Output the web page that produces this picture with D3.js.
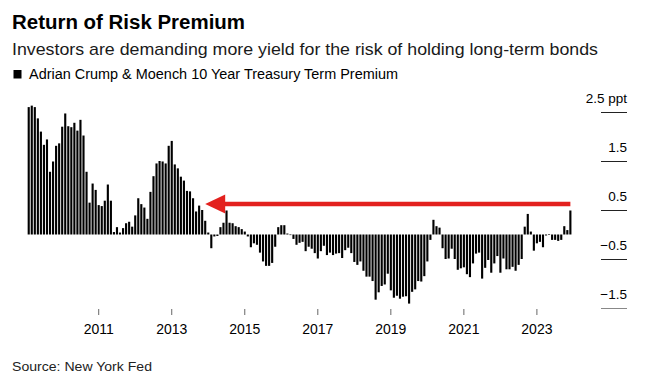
<!DOCTYPE html>
<html>
<head>
<meta charset="utf-8">
<script src="https://cdn.jsdelivr.net/npm/d3@7"></script>
<style>
  body { margin: 0; background: #fff; }
  text { font-family: "Liberation Sans", Arial, sans-serif; }
</style>
</head>
<body>
<svg id="chart" width="648" height="386"></svg>
<script>
// monthly ACM 10y term premium, ppt
const startMonth = new Date(2009, 1, 1);
const premium = [
  2.60, 2.63, 2.60, 2.37, 2.10, 1.83, 1.94, 1.28, 1.49, 1.81, 1.86, 2.20, 2.47, 2.21, 2.19, 2.28, 2.12, 2.34, 2.02, 1.28,
  0.65, 1.04, 0.91, 0.60, 0.58, 0.69, 1.02, 0.69, 0.05, 0.15,
  0.04, 0.13, 0.23, 0.26, 0.16, 0.39, 0.74, 0.62, 0.55, 0.32, 0.87, 1.19, 1.45, 1.50, 1.49, 1.45, 1.81, 1.91, 1.43, 1.35,
  1.18, 1.10, 0.89, 0.88, 0.74, 0.47, 0.59, 0.50, 0.28, 0.04,
  -0.28, -0.04, -0.03, 0.15, 0.24, 0.49, 0.24, 0.23, 0.17, 0.15, 0.11, 0.06, -0.04, -0.26, -0.18, -0.21, -0.37, -0.55, -0.64, -0.64,
  -0.58, -0.25, 0.15, 0.19, 0.19, 0.02, -0.01,
  -0.09, -0.21, -0.17, -0.15, -0.34, -0.25, -0.29, -0.38, -0.49, -0.34, -0.23, -0.42, -0.37, -0.42, -0.39, -0.38, -0.48, -0.32, -0.27, -0.38,
  -0.56, -0.62, -0.55, -0.74, -0.86, -0.86, -0.95, -1.33, -1.18, -1.05, -1.02, -0.80, -1.14,
  -1.29, -1.25, -1.31, -1.27, -1.26, -1.41, -1.17, -1.12, -0.95, -0.96, -0.85, -0.55, -0.11, 0.30, 0.17, 0.14, -0.28, -0.50, -0.49, -0.29,
  -0.50, -0.72, -0.69, -0.67, -0.81, -0.87, -0.59, -0.39, -0.37, -0.90, -0.68,
  -0.52, -0.78, -0.59, -0.44, -0.78, -0.49, -0.71, -0.71, -0.66, -0.74, -0.62, -0.50,
  0.16, 0.42, 0.06, -0.33, -0.18, -0.15, -0.26, -0.02, 0.01, -0.11, -0.11, -0.13, -0.11, 0.17, 0.09, 0.49
];
const yTicks = [-1.5, -0.5, 0.5, 1.5, 2.5];
const xTickYears = [2011, 2013, 2015, 2017, 2019, 2021, 2023];
// arrow: from latest month back to the last time premium was this high
const arrowLevel = 0.62;
const arrowBackTo = new Date(2013, 11, 1);

const months = premium.map((v, i) => d3.timeMonth.offset(startMonth, i));
const data = months.map((m, i) => ({ month: m, value: premium[i] }));

const svg = d3.select('#chart');

const x = d3.scaleBand()
  .domain(months.map(m => +m))
  .range([27.2, 27.2 + 3.043 * months.length])
  .paddingInner(0.3)
  .paddingOuter(0.15);

const y = d3.scaleLinear()
  .domain([-1.5, 2.5])
  .range([308, 112]);

// header
svg.append('text')
  .attr('x', 12).attr('y', 29)
  .attr('textLength', 233).attr('lengthAdjust', 'spacingAndGlyphs')
  .style('font-size', '20px').style('font-weight', 'bold')
  .attr('fill', '#000')
  .text('Return of Risk Premium');

svg.append('text')
  .attr('x', 12).attr('y', 55)
  .attr('textLength', 586).attr('lengthAdjust', 'spacingAndGlyphs')
  .style('font-size', '17px')
  .attr('fill', '#1a1a1a')
  .text('Investors are demanding more yield for the risk of holding long-term bonds');

svg.append('rect')
  .attr('x', 13.5).attr('y', 70)
  .attr('width', 8).attr('height', 8.5)
  .attr('fill', '#000');

svg.append('text')
  .attr('x', 29).attr('y', 79)
  .attr('textLength', 369).attr('lengthAdjust', 'spacingAndGlyphs')
  .style('font-size', '14px')
  .attr('fill', '#000')
  .text('Adrian Crump & Moench 10 Year Treasury Term Premium');

// y grid stubs on the right
const yAxis = svg.append('g').attr('class', 'y-axis');
yAxis.selectAll('line')
  .data(yTicks)
  .enter()
  .append('line')
  .attr('x1', 601).attr('x2', 627)
  .attr('y1', d => Math.round(y(d)) + 0.5)
  .attr('y2', d => Math.round(y(d)) + 0.5)
  .attr('stroke', d => d === -1.5 ? '#888' : '#222')
  .attr('stroke-width', 1);

yAxis.selectAll('text')
  .data(yTicks)
  .enter()
  .append('text')
  .attr('x', 627)
  .attr('y', d => y(d) - 9.5)
  .attr('text-anchor', 'end')
  .style('font-size', '13.5px')
  .attr('fill', '#000')
  .text(d => d === 2.5 ? '2.5 ppt' : d3.format('.1f')(d));

// bars
svg.append('g')
  .selectAll('rect')
  .data(data)
  .enter()
  .append('rect')
  .attr('x', d => x(+d.month))
  .attr('width', x.bandwidth())
  .attr('y', d => y(Math.max(0, d.value)))
  .attr('height', d => Math.max(0.6, Math.abs(y(d.value) - y(0))))
  .attr('fill', '#000');

// x axis ticks at january of the labelled years
const tickData = xTickYears.map(yr => +new Date(yr, 0, 1));
const xAxis = svg.append('g').attr('class', 'x-axis');
xAxis.selectAll('line')
  .data(tickData)
  .enter()
  .append('line')
  .attr('x1', d => x(d) + x.bandwidth() / 2)
  .attr('x2', d => x(d) + x.bandwidth() / 2)
  .attr('y1', 309).attr('y2', 315)
  .attr('stroke', '#666');

xAxis.selectAll('text')
  .data(tickData)
  .enter()
  .append('text')
  .attr('x', d => x(d) + x.bandwidth() / 2)
  .attr('y', 334)
  .attr('text-anchor', 'middle')
  .style('font-size', '14px')
  .attr('fill', '#000')
  .text(d => new Date(d).getFullYear());

// red arrow annotation
const ax1 = x(+months[months.length - 1]) + x.bandwidth() / 2;
const ax0 = x(+arrowBackTo) + x.bandwidth() / 2;
const ay = y(arrowLevel);
svg.append('line')
  .attr('x1', ax0 + 16).attr('x2', ax1)
  .attr('y1', ay).attr('y2', ay)
  .attr('stroke', '#e3211e')
  .attr('stroke-width', 4.5);
svg.append('path')
  .attr('d', d3.line()([[ax0, ay], [ax0 + 20, ay - 9.5], [ax0 + 20, ay + 9.5]]) + 'Z')
  .attr('fill', '#e3211e');

svg.append('text')
  .attr('x', 12).attr('y', 371)
  .attr('textLength', 140).attr('lengthAdjust', 'spacingAndGlyphs')
  .style('font-size', '13.5px')
  .attr('fill', '#222')
  .text('Source: New York Fed');
</script>
</body>
</html>
